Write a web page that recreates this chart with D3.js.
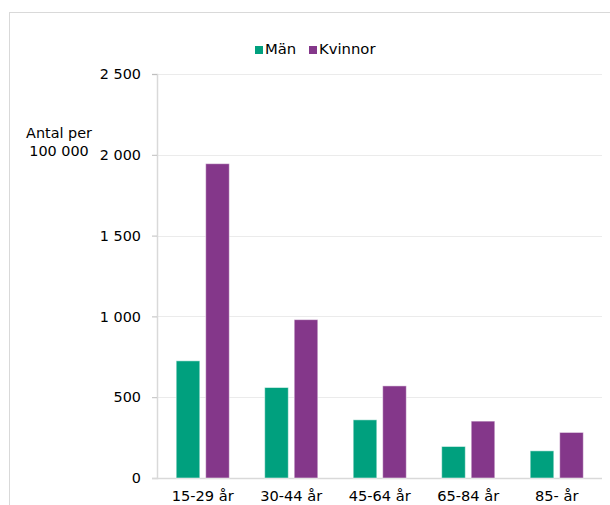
<!DOCTYPE html>
<html>
<head>
<meta charset="utf-8">
<script src="https://cdn.jsdelivr.net/npm/d3@7"></script>
<style>
  body { margin: 0; background: #fff; }
  text { font-family: "DejaVu Sans", Verdana, sans-serif; fill: #000; }
</style>
</head>
<body>
<svg class="chart" width="610" height="505"></svg>
<script>
const categories = ["15-29 år", "30-44 år", "45-64 år", "65-84 år", "85- år"];
const series = ["Män", "Kvinnor"];
const manValues = [725, 560, 360, 195, 168];
const kvinnorValues = [1945, 980, 570, 352, 282];
const yTicks = [0, 500, 1000, 1500, 2000, 2500];
const colors = ["#00a07e", "#84378a"];

const svg = d3.select(".chart");
const width = 610;
const height = 505;
const margin = { top: 74, right: 8, bottom: 27, left: 157 };
const graphWidth = width - margin.left - margin.right;
const graphHeight = height - margin.top - margin.bottom;

// outer frame (only left and top edges are visible)
svg.append("line")
  .attr("x1", 9.5).attr("x2", 9.5)
  .attr("y1", 12).attr("y2", height)
  .attr("stroke", "#d9d9d9");
svg.append("line")
  .attr("x1", 9).attr("x2", width)
  .attr("y1", 12.5).attr("y2", 12.5)
  .attr("stroke", "#d9d9d9");

const data = categories.map((c, i) => ({
  cat: c,
  values: [manValues[i], kvinnorValues[i]]
}));

const xScale = d3.scaleBand()
  .domain(categories)
  .range([1.5, 444])
  .paddingInner(0.4)
  .paddingOuter(0.2);

const xSub = d3.scaleBand()
  .domain(series)
  .range([0, xScale.bandwidth()])
  .paddingInner(0.2);

const yScale = d3.scaleLinear()
  .domain([0, 2500])
  .range([graphHeight, 0]);

const graph = svg.append("g")
  .attr("transform", `translate(${margin.left}, ${margin.top})`);

// gridlines
graph.append("g")
  .selectAll("line")
  .data(yTicks.filter(d => d > 0))
  .enter()
  .append("line")
  .attr("x1", 0)
  .attr("x2", graphWidth)
  .attr("y1", d => Math.round(yScale(d)) + 0.5)
  .attr("y2", d => Math.round(yScale(d)) + 0.5)
  .attr("stroke", "#ebebeb");

// y axis
const yAxis = d3.axisLeft(yScale)
  .tickValues(yTicks)
  .tickSize(5)
  .tickPadding(11)
  .tickFormat(d => d3.format(",")(d).replace(/,/g, " "));

const yAxisG = graph.append("g").call(yAxis);
yAxisG.select(".domain").attr("stroke", "#d9d9d9").attr("stroke-width", 1.5);
yAxisG.selectAll(".tick line").attr("stroke", "#bfbfbf");
yAxisG.selectAll(".tick text")
  .style("font-size", "14.4px")
  .style("font-family", "DejaVu Sans, Verdana, sans-serif");

// x baseline
graph.append("line")
  .attr("x1", -5)
  .attr("x2", graphWidth)
  .attr("y1", graphHeight + 0.5)
  .attr("y2", graphHeight + 0.5)
  .attr("stroke", "#d9d9d9")
  .attr("stroke-width", 1.5);

// bars
const groups = graph.selectAll(".group")
  .data(data)
  .enter()
  .append("g")
  .attr("class", "group")
  .attr("transform", d => `translate(${xScale(d.cat)}, 0)`);

groups.selectAll("rect")
  .data(d => d.values.map((v, i) => ({ key: series[i], value: v, idx: i })))
  .enter()
  .append("rect")
  .attr("x", d => xSub(d.key))
  .attr("y", d => yScale(d.value))
  .attr("width", xSub.bandwidth())
  .attr("height", d => graphHeight - yScale(d.value))
  .attr("fill", d => colors[d.idx])
  .attr("stroke", "#ffffff")
  .attr("stroke-opacity", 0.5)
  .attr("stroke-width", 1);

// x labels
graph.append("g")
  .selectAll("text")
  .data(categories)
  .enter()
  .append("text")
  .attr("x", d => xScale(d) + xScale.bandwidth() / 2)
  .attr("y", graphHeight + 23)
  .attr("text-anchor", "middle")
  .style("font-size", "14.6px")
  .text(d => d);

// y title
const yTitle = svg.append("text")
  .attr("text-anchor", "middle")
  .style("font-size", "14.4px");
yTitle.append("tspan").attr("x", 59).attr("y", 138).text("Antal per");
yTitle.append("tspan").attr("x", 59).attr("y", 156).text("100 000");

// legend
const legendX = [255, 309];
const legend = svg.append("g");
series.forEach((s, i) => {
  legend.append("rect")
    .attr("x", legendX[i])
    .attr("y", 46)
    .attr("width", 8)
    .attr("height", 8)
    .attr("fill", colors[i]);
  legend.append("text")
    .attr("x", legendX[i] + 10)
    .attr("y", 54)
    .style("font-size", "14.8px")
    .text(s);
});
</script>
</body>
</html>
